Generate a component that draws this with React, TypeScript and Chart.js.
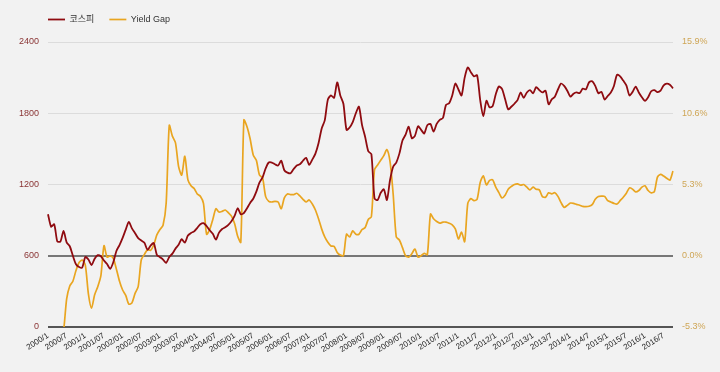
import React, { useEffect, useRef } from "react";
import { Chart, registerables } from "chart.js";

Chart.register(...registerables);

const seriesNames = ["코스피", "Yield Gap"];

const tickLabels = [
  "2000/1", "2000/7", "2001/1", "2001/07", "2002/01", "2002/07", "2003/01", "2003/07",
  "2004/01", "2004/07", "2005/01", "2005/07", "2006/01", "2006/07", "2007/01", "2007/07",
  "2008/01", "2008/07", "2009/01", "2009/07", "2010/1", "2010/7", "2011/1", "2011/7",
  "2012/1", "2012/7", "2013/1", "2013/7", "2014/1", "2014/7", "2015/1", "2015/7",
  "2016/1", "2016/7",
];

const kospi = [
  950, 845, 865, 720, 720, 810, 712, 680, 600, 528, 505, 500,
  590, 568, 522, 575, 605, 596, 560, 530, 490, 545, 640, 690,
  750, 820, 885, 830, 790, 748, 728, 710, 650, 685, 708, 608,
  588, 568, 540, 590, 618, 660, 692, 740, 710, 770, 792, 805,
  835, 865, 875, 850, 815, 785, 735, 795, 825, 840, 860, 890,
  935, 1000, 950, 960, 1000, 1045, 1080, 1140, 1215, 1260, 1336, 1385,
  1385, 1370, 1360, 1400, 1320, 1300, 1294, 1330, 1360, 1370, 1400, 1425,
  1365, 1410, 1460, 1547, 1670, 1740, 1915, 1950, 1930, 2060, 1950, 1880,
  1660, 1680, 1725, 1800, 1855, 1700, 1600, 1480, 1455, 1083, 1069, 1130,
  1160, 1070, 1238, 1350, 1385, 1460, 1570, 1620, 1687, 1590, 1610, 1690,
  1660, 1630, 1700, 1710, 1645, 1710, 1745, 1760, 1870, 1885, 1950, 2050,
  2000, 1950, 2100, 2185, 2145, 2110, 2120, 1910, 1775, 1905, 1850, 1860,
  1960, 2025, 2005, 1920, 1833, 1855, 1880, 1910, 1975, 1930, 1975, 1995,
  1968, 2020, 1995, 1975, 1990, 1875, 1917, 1939, 2000, 2050, 2030, 1990,
  1940, 1965, 1975, 1970, 2008, 2001, 2060, 2070, 2030, 1968, 1980, 1915,
  1945, 1975, 2030, 2125, 2110, 2075, 2035, 1950, 1980, 2025, 1975, 1935,
  1905, 1935, 1985, 1995, 1978, 1990, 2035, 2050, 2040, 2010,
];

const yieldGap = [
  -9, -8.5, -8, -7.5, -6.5, -5.6, -3.2, -2.25, -1.9, -1.1, -0.5, -0.32,
  -0.7, -2.85, -3.9, -2.9, -2.3, -1.5, 0.75, -0.1, 0.0, -0.2, -1.0, -1.9,
  -2.55, -2.95, -3.6, -3.5, -2.8, -2.3, -0.3, 0.1, 0.45, 0.4, 0.8, 1.55,
  1.95, 2.27, 3.9, 9.7, 8.9, 8.4, 6.63, 6.0, 7.4, 5.64, 5.2, 5.0,
  4.6, 4.42, 3.9, 1.6, 1.95, 2.7, 3.5, 3.25, 3.3, 3.4, 3.2, 2.95,
  2.4, 1.45, 1.0, 10.1, 9.6, 8.7, 7.5, 7.1, 6.0, 5.8, 4.4, 4.05,
  4.0, 4.05, 4.0, 3.5, 4.3, 4.6, 4.55, 4.55, 4.65, 4.45, 4.2, 4.0,
  4.15, 3.85, 3.4, 2.75, 2.0, 1.4, 1.0, 0.72, 0.7, 0.25, 0.05, 0.0,
  1.6, 1.4, 1.85, 1.6, 1.6, 1.95, 2.1, 2.7, 2.9, 6.4, 6.75, 7.1,
  7.45, 7.9, 7.0, 4.6, 1.4, 1.17, 0.6, 0.0, -0.1, 0.15, 0.5, -0.1,
  0.0, 0.18, 0.08, 3.1, 2.75, 2.55, 2.42, 2.5, 2.5, 2.42, 2.3, 2.0,
  1.25, 1.75, 1.05, 3.9, 4.25, 4.1, 4.2, 5.45, 5.94, 5.27, 5.6, 5.65,
  5.1, 4.7, 4.3, 4.5, 4.95, 5.15, 5.3, 5.35, 5.25, 5.3, 5.1, 4.9,
  5.1, 4.95, 4.9, 4.4, 4.35, 4.68, 4.6, 4.69, 4.42, 3.95, 3.6, 3.75,
  3.92, 3.9, 3.82, 3.76, 3.67, 3.65, 3.68, 3.8, 4.2, 4.4, 4.43, 4.42,
  4.1, 4.0, 3.9, 3.85, 4.1, 4.35, 4.65, 5.05, 4.95, 4.75, 4.85, 5.1,
  5.2, 4.85, 4.68, 4.77, 5.85, 6.05, 5.93, 5.76, 5.62, 6.3,
];

const leftTicks = [0, 600, 1200, 1800, 2400];
const rightTicks = [-5.3, 0, 5.3, 10.6, 15.9];

const categories: string[] = kospi.map(
  (_, i) => `${2000 + Math.floor(i / 12)}/${(i % 12) + 1}`
);

const FONT = "Arial, 'Liberation Sans', 'Noto Sans CJK KR', sans-serif";

const legendPlacePlugin = {
  id: "legendPlace",
  beforeLayout(chart: any) {
    const lg = chart.legend;
    if (lg && !lg._patched) {
      const orig = lg.fit.bind(lg);
      lg.fit = function () {
        orig();
        this.height = 42;
      };
      lg._patched = true;
    }
  },
  afterLayout(chart: any) {
    const lg = chart.legend;
    if (lg) {
      lg.left = 33;
    }
  },
};

export default function App() {
  const ref = useRef<HTMLCanvasElement | null>(null);

  useEffect(() => {
    document.body.style.margin = "0";
    document.body.style.background = "#f2f2f2";
    if (!ref.current) return;
    const chart = new Chart(ref.current, {
      type: "line",
      data: {
        labels: categories,
        datasets: [
          {
            label: seriesNames[0],
            data: kospi,
            yAxisID: "y",
            borderColor: "#8f0b10",
            backgroundColor: "#8f0b10",
            borderWidth: 1.8,
            pointRadius: 0,
            tension: 0.25,
          },
          {
            label: seriesNames[1],
            data: yieldGap,
            yAxisID: "y1",
            borderColor: "#e9a520",
            backgroundColor: "#e9a520",
            borderWidth: 1.7,
            pointRadius: 0,
            tension: 0.25,
          },
        ],
      },
      options: {
        responsive: false,
        animation: false,
        devicePixelRatio: 1,
        layout: { padding: { left: 0, right: 0, top: 0, bottom: 0 } },
        plugins: {
          tooltip: { enabled: false },
          legend: {
            position: "top",
            align: "start",
            labels: {
              usePointStyle: true,
              pointStyle: "line",
              pointStyleWidth: 17,
              padding: 15,
              color: "#333",
              font: { family: FONT, size: 9 },
            },
          },
        },
        scales: {
          x: {
            grid: { display: false, drawTicks: false },
            border: { display: false },
            ticks: {
              autoSkip: false,
              minRotation: 32,
              maxRotation: 32,
              padding: 4,
              color: "#222",
              font: { family: FONT, size: 8 },
              callback: (_v: any, idx: number) =>
                idx % 6 === 0 ? tickLabels[idx / 6] ?? "" : "",
            },
            afterFit: (s: any) => {
              s.height = 45;
            },
          },
          y: {
            position: "left",
            min: 0,
            max: 2400,
            border: { display: false },
            grid: {
              drawTicks: false,
              color: (c: any) =>
                c.tick && c.tick.value === 600
                  ? "#777"
                  : c.tick && c.tick.value === 0
                  ? "#555"
                  : "#dcdcdc",
              lineWidth: (c: any) =>
                c.tick && (c.tick.value === 600 || c.tick.value === 0) ? 2 : 1,
            },
            ticks: {
              padding: 9,
              color: "#8a3434",
              font: { family: FONT, size: 9 },
              callback: (v: any) => String(v),
            },
            afterBuildTicks: (s: any) => {
              s.ticks = leftTicks.map((v) => ({ value: v }));
            },
            afterFit: (s: any) => {
              s.width = 48;
            },
          },
          y1: {
            position: "right",
            min: -5.3,
            max: 15.9,
            border: { display: false },
            grid: { display: false, drawTicks: false },
            ticks: {
              padding: 9,
              color: "#cfa656",
              font: { family: FONT, size: 9 },
              callback: (v: any) => Number(v).toFixed(1) + "%",
            },
            afterBuildTicks: (s: any) => {
              s.ticks = rightTicks.map((v) => ({ value: v }));
            },
            afterFit: (s: any) => {
              s.width = 47;
            },
          },
        },
      },
      plugins: [legendPlacePlugin],
    });
    return () => chart.destroy();
  }, []);

  return (
    <div style={{ width: 720, height: 372, background: "#f2f2f2", position: "relative" }}>
      <canvas ref={ref} width={720} height={372} style={{ display: "block" }} />
    </div>
  );
}
